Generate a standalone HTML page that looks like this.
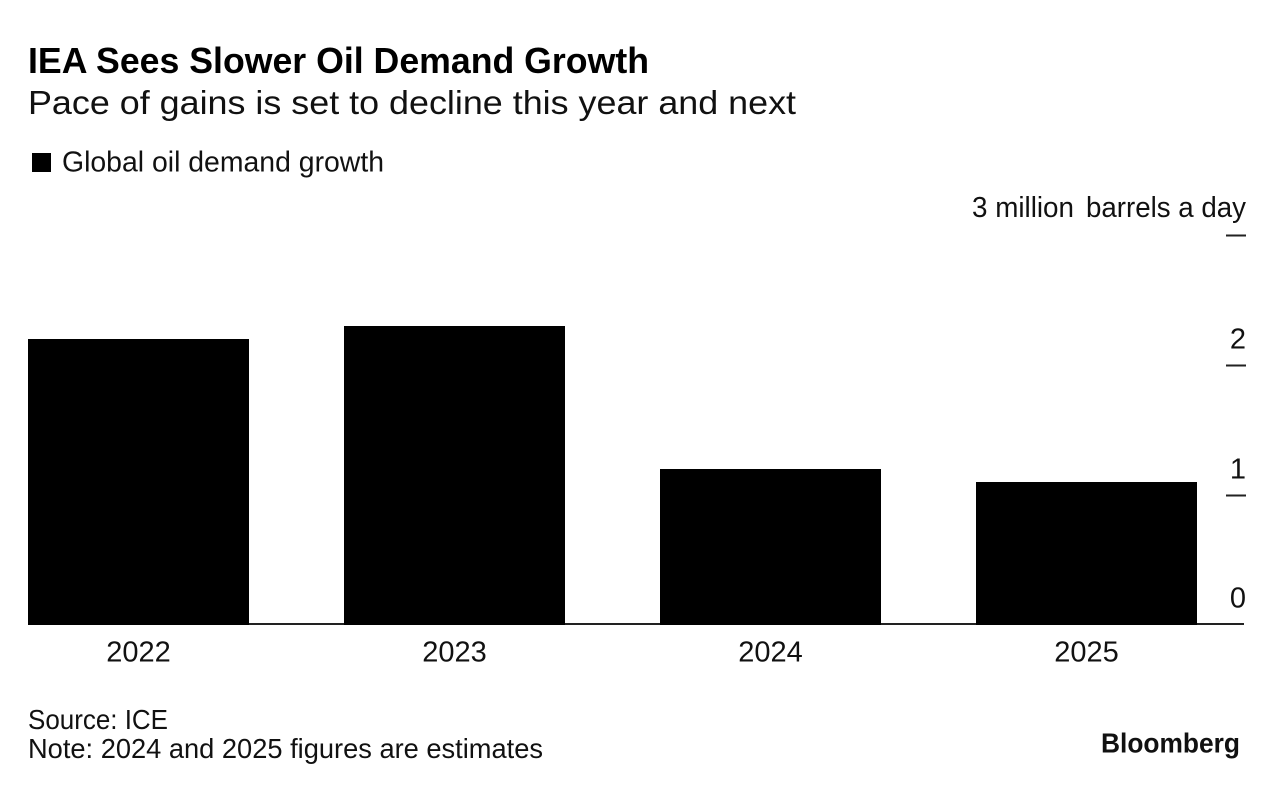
<!DOCTYPE html>
<html lang="en">
<head>
<meta charset="utf-8">
<title>IEA Sees Slower Oil Demand Growth</title>
<style>
html,body{margin:0;padding:0;background:#fff;}
body{width:1279px;height:788px;overflow:hidden;}
svg{display:block;}
text{font-family:"Liberation Sans",Arial,sans-serif;fill:#111;}
</style>
</head>
<body>
<svg id="chart" xmlns="http://www.w3.org/2000/svg" width="1279" height="788" viewBox="0 0 1279 788">
  <rect x="0" y="0" width="1279" height="788" fill="#fff"/>
  <text x="28" y="73" font-size="36.5" font-weight="700" style="fill:#000" textLength="621" lengthAdjust="spacingAndGlyphs">IEA Sees Slower Oil Demand Growth</text>
  <text x="28" y="114" font-size="33" textLength="768" lengthAdjust="spacingAndGlyphs">Pace of gains is set to decline this year and next</text>
  <rect x="32" y="153" width="19" height="19" fill="#000"/>
  <text x="62" y="171.5" font-size="28.5" textLength="322" lengthAdjust="spacingAndGlyphs">Global oil demand growth</text>
  <text x="972" y="217" font-size="28.5" textLength="102" lengthAdjust="spacingAndGlyphs">3 million</text>
  <text x="1086" y="217" font-size="28.5" textLength="160" lengthAdjust="spacingAndGlyphs">barrels a day</text>
  <g id="x-axis"></g>
  <g id="bars"></g>
  <g id="y-axis"></g>
  <text x="28" y="729" font-size="27.5" textLength="140" lengthAdjust="spacingAndGlyphs">Source: ICE</text>
  <text x="28" y="758" font-size="27.5" textLength="515" lengthAdjust="spacingAndGlyphs">Note: 2024 and 2025 figures are estimates</text>
  <text x="1101" y="752.5" font-size="28" font-weight="700" style="fill:#111" textLength="139" lengthAdjust="spacingAndGlyphs">Bloomberg</text>
</svg>
<script>
const categories = ['2022', '2023', '2024', '2025'];
const demandGrowth = [2.2, 2.3, 1.2, 1.1];
const yTicks = [1, 2, 3];
const yTickLabels = ['1', '2', ''];
const zeroLabel = '0';

const NS = 'http://www.w3.org/2000/svg';
const plotLeft = 28;
const plotRight = 1244;
const barWidth = 221;
const barStep = 316;
const zeroY = 625;
const unitHeight = 130;

function yScale(v) {
  return zeroY - v * unitHeight;
}
function xScale(i) {
  return plotLeft + i * barStep;
}
function make(tag, attrs) {
  const el = document.createElementNS(NS, tag);
  Object.keys(attrs).forEach(function (k) { el.setAttribute(k, attrs[k]); });
  return el;
}

const barsGroup = document.getElementById('bars');
const yGroup = document.getElementById('y-axis');
const xGroup = document.getElementById('x-axis');

const baseline = make('rect', {
  x: plotLeft,
  y: yScale(0) - 2,
  width: plotRight - plotLeft,
  height: 2,
  fill: '#222'
});


xGroup.appendChild(baseline);

demandGrowth.forEach(function (v, i) {
  const bar = make('rect', {
    x: xScale(i),
    y: yScale(v),
    width: barWidth,
    height: yScale(0) - yScale(v),
    fill: '#000'
  });
  
  
  barsGroup.appendChild(bar);
});

categories.forEach(function (c, i) {
  const label = make('text', {
    x: xScale(i) + barWidth / 2,
    y: 661.5,
    'font-size': 29,
    'text-anchor': 'middle'
  });
  
  
  label.textContent = c;
  xGroup.appendChild(label);
});

yTicks.forEach(function (t, i) {
  const tick = make('rect', {
    x: 1226,
    y: yScale(t) - 0.5,
    width: 20,
    height: 2,
    fill: '#222'
  });
  
  
  yGroup.appendChild(tick);
  if (yTickLabels[i]) {
    const label = make('text', {
      x: 1246,
      y: yScale(t) - 16.5,
      'font-size': 29,
      'text-anchor': 'end'
    });
    
    
    label.textContent = yTickLabels[i];
    yGroup.appendChild(label);
  }
});

const zero = make('text', {
  x: 1246,
  y: yScale(0) - 17.5,
  'font-size': 29,
  'text-anchor': 'end'
});


zero.textContent = zeroLabel;
yGroup.appendChild(zero);
</script>
</body>
</html>
